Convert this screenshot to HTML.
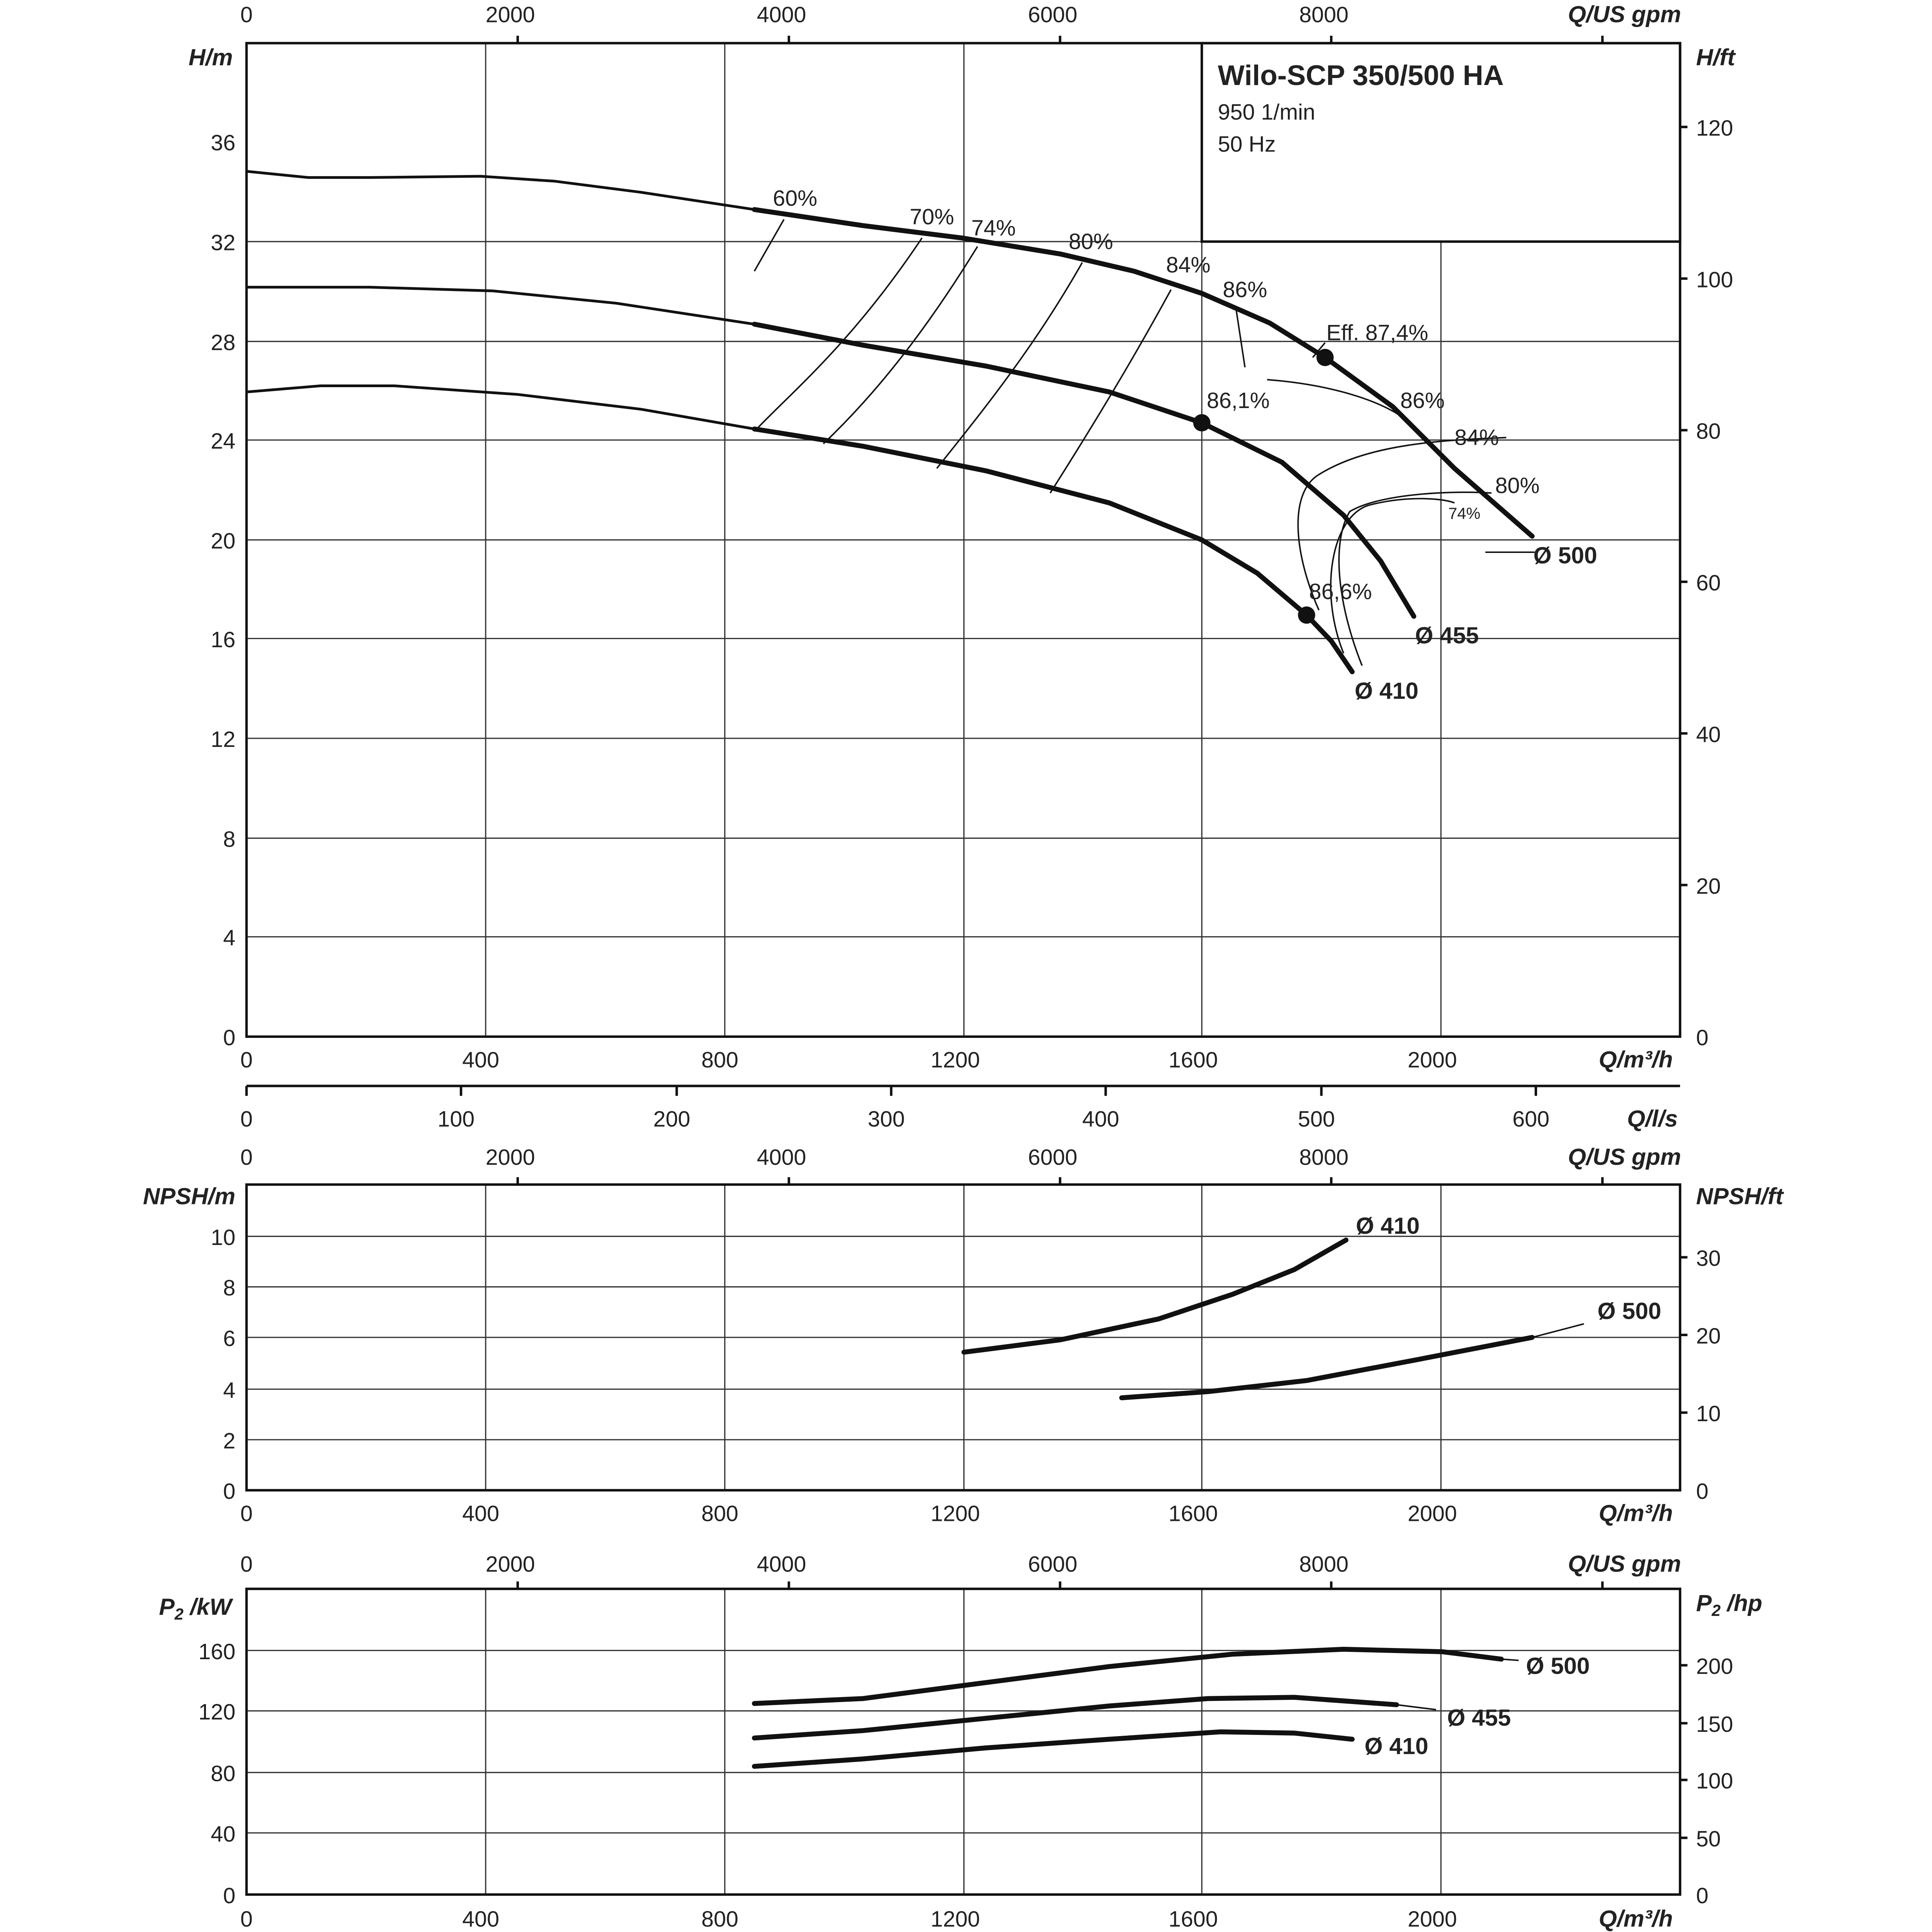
<!DOCTYPE html>
<html><head><meta charset="utf-8"><style>html,body{margin:0;padding:0;background:#fff}svg{display:block}</style></head><body>
<svg xmlns="http://www.w3.org/2000/svg" width="5120" height="5120" viewBox="0 0 1605 1605" font-family="Liberation Sans, DejaVu Sans, sans-serif" font-size="18" fill="#222">
<rect width="1605" height="1605" fill="#fff"/>
<g stroke="#333" stroke-width="1" fill="none">
<path d="M394 35V841M588 35V841M782 35V841M975 35V841M1169 196V841M200 760H1363M200 680H1363M200 599H1363M200 518H1363M200 438H1363M200 357H1363M200 277H1363M200 196H975"/>
<path d="M394 961V1209M588 961V1209M782 961V1209M975 961V1209M1169 961V1209M200 1168H1363M200 1127H1363M200 1085H1363M200 1044H1363M200 1003H1363"/>
<path d="M394 1289V1537M588 1289V1537M782 1289V1537M975 1289V1537M1169 1289V1537M200 1487H1363M200 1438H1363M200 1388H1363M200 1339H1363"/>
</g>
<g stroke="#111" stroke-width="2" fill="none">
<rect x="200" y="35" width="1163" height="806"/>
<rect x="975" y="35" width="388" height="161"/>
<rect x="200" y="961" width="1163" height="248"/>
<rect x="200" y="1289" width="1163" height="248"/>
<path d="M200 881H1363"/>
<path d="M200 881v8M374 881v8M549 881v8M723 881v8M897 881v8M1072 881v8M1246 881v8"/>
<path d="M420 35v-6M640 35v-6M860 35v-6M1080 35v-6M1300 35v-6M420 961v-6M640 961v-6M860 961v-6M1080 961v-6M1300 961v-6M420 1289v-6M640 1289v-6M860 1289v-6M1080 1289v-6M1300 1289v-6"/>
<path d="M1363 103h6M1363 226h6M1363 349h6M1363 472h6M1363 595h6M1363 718h6M1363 1146h6M1363 1083h6M1363 1020h6M1363 1491h6M1363 1444h6M1363 1398h6M1363 1351h6"/>
</g>
<g stroke="#111" stroke-width="2.2" fill="none" stroke-linejoin="round">
<polyline points="200,139 250,144 300,144 390,143 450,147 520,156 612,170"/>
<polyline points="200,233 300,233 400,236 500,246 612,263"/>
<polyline points="200,318 260,313 320,313 420,320 520,332 612,348"/>
</g>
<g stroke="#111" stroke-width="4" fill="none" stroke-linejoin="round" stroke-linecap="round">
<polyline points="612,170 700,183 780,193 860,206 920,220 975,238 1030,262 1075,290 1130,330 1180,380 1243,435"/>
<polyline points="612,263 700,280 800,297 900,318 975,343 1040,375 1090,418 1120,455 1147,500"/>
<polyline points="612,348 700,362 800,382 900,408 975,438 1020,465 1060,499 1080,520 1097,545"/>
<polyline points="782,1097 860,1087 940,1070 1000,1050 1050,1030 1092,1006"/>
<polyline points="910,1134 980,1129 1060,1120 1150,1103 1243,1085"/>
<polyline points="612,1382 700,1378 800,1365 900,1352 1000,1342 1090,1338 1170,1340 1218,1346"/>
<polyline points="612,1410 700,1404 800,1394 900,1384 980,1378 1050,1377 1133,1383"/>
<polyline points="612,1433 700,1427 800,1418 900,1411 990,1405 1050,1406 1097,1411"/>
</g>
<g stroke="#111" stroke-width="1.2" fill="none">
<path d="M1243 1085L1285 1074M1218 1346L1232 1347M1133 1383L1165 1387"/>
<path d="M612 220L636 178"/>
<path d="M612 350C640 320 690 280 748 193"/>
<path d="M668 360C710 320 750 270 793 200"/>
<path d="M760 380C800 330 840 280 878 213"/>
<path d="M852 400C890 340 920 290 950 235"/>
<path d="M1003 252L1010 298"/>
<path d="M1028 308C1080 312 1120 325 1140 340"/>
<path d="M1070 495C1050 450 1045 400 1070 385C1110 360 1170 357 1222 355"/>
<path d="M1105 540C1085 490 1080 440 1095 415C1120 400 1180 398 1210 400"/>
<path d="M1090 530C1070 480 1080 420 1110 410C1140 402 1170 404 1180 408"/>
<path d="M1065 290L1075 278M1205 448L1245 448"/>
</g>
<g fill="#111"><circle cx="1075" cy="290" r="7"/><circle cx="975" cy="343" r="7"/><circle cx="1060" cy="499" r="7"/></g>
<g font-size="18">
<text x="627" y="167">60%</text><text x="738" y="182">70%</text><text x="788" y="191">74%</text>
<text x="867" y="202">80%</text><text x="946" y="221">84%</text><text x="992" y="241">86%</text>
<text x="1076" y="276">Eff. 87,4%</text><text x="979" y="331">86,1%</text><text x="1136" y="331">86%</text>
<text x="1180" y="361">84%</text><text x="1213" y="400">80%</text><text x="1175" y="421" font-size="13">74%</text>
<text x="1062" y="486">86,6%</text>
</g>
<g font-weight="bold" font-size="19">
<text x="1244" y="457">Ø 500</text><text x="1148" y="522">Ø 455</text><text x="1099" y="567">Ø 410</text>
<text x="1100" y="1001">Ø 410</text><text x="1296" y="1070">Ø 500</text>
<text x="1238" y="1358">Ø 500</text><text x="1174" y="1400">Ø 455</text><text x="1107" y="1423">Ø 410</text>
</g>
<text x="988" y="69" font-weight="bold" font-size="23">Wilo-SCP 350/500 HA</text>
<text x="988" y="97">950 1/min</text><text x="988" y="123">50 Hz</text>
<g text-anchor="end">
<text x="191" y="122">36</text><text x="191" y="203">32</text><text x="191" y="284">28</text><text x="191" y="364">24</text><text x="191" y="445">20</text><text x="191" y="525">16</text><text x="191" y="606">12</text><text x="191" y="687">8</text><text x="191" y="767">4</text><text x="191" y="848">0</text>
<text x="191" y="1010">10</text><text x="191" y="1051">8</text><text x="191" y="1092">6</text><text x="191" y="1134">4</text><text x="191" y="1175">2</text><text x="191" y="1216">0</text>
<text x="191" y="1346">160</text><text x="191" y="1395">120</text><text x="191" y="1445">80</text><text x="191" y="1494">40</text><text x="191" y="1544">0</text>
</g>
<g>
<text x="1376" y="110">120</text><text x="1376" y="233">100</text><text x="1376" y="356">80</text><text x="1376" y="479">60</text><text x="1376" y="602">40</text><text x="1376" y="725">20</text><text x="1376" y="848">0</text>
<text x="1376" y="1027">30</text><text x="1376" y="1090">20</text><text x="1376" y="1153">10</text><text x="1376" y="1216">0</text>
<text x="1376" y="1358">200</text><text x="1376" y="1405">150</text><text x="1376" y="1451">100</text><text x="1376" y="1498">50</text><text x="1376" y="1544">0</text>
</g>
<g text-anchor="middle">
<text x="200" y="866">0</text><text x="390" y="866">400</text><text x="584" y="866">800</text><text x="775" y="866">1200</text><text x="968" y="866">1600</text><text x="1162" y="866">2000</text>
<text x="200" y="1234">0</text><text x="390" y="1234">400</text><text x="584" y="1234">800</text><text x="775" y="1234">1200</text><text x="968" y="1234">1600</text><text x="1162" y="1234">2000</text>
<text x="200" y="1563">0</text><text x="390" y="1563">400</text><text x="584" y="1563">800</text><text x="775" y="1563">1200</text><text x="968" y="1563">1600</text><text x="1162" y="1563">2000</text>
<text x="200" y="914">0</text><text x="370" y="914">100</text><text x="545" y="914">200</text><text x="719" y="914">300</text><text x="893" y="914">400</text><text x="1068" y="914">500</text><text x="1242" y="914">600</text>
<text x="200" y="18">0</text><text x="414" y="18">2000</text><text x="634" y="18">4000</text><text x="854" y="18">6000</text><text x="1074" y="18">8000</text>
<text x="200" y="945">0</text><text x="414" y="945">2000</text><text x="634" y="945">4000</text><text x="854" y="945">6000</text><text x="1074" y="945">8000</text>
<text x="200" y="1275">0</text><text x="414" y="1275">2000</text><text x="634" y="1275">4000</text><text x="854" y="1275">6000</text><text x="1074" y="1275">8000</text>
</g>
<g font-weight="bold" font-style="italic" font-size="19">
<text x="1272" y="18">Q/US gpm</text><text x="1272" y="945">Q/US gpm</text><text x="1272" y="1275">Q/US gpm</text>
<text x="1297" y="866">Q/m³/h</text><text x="1297" y="1234">Q/m³/h</text><text x="1297" y="1563">Q/m³/h</text>
<text x="1320" y="914">Q/l/s</text>
<text x="153" y="53">H/m</text><text x="1376" y="53">H/ft</text>
<text x="116" y="977">NPSH/m</text><text x="1376" y="977">NPSH/ft</text>
<text x="129" y="1310">P<tspan font-size="13" dy="4">2</tspan><tspan dy="-4"> /kW</tspan></text>
<text x="1376" y="1307">P<tspan font-size="13" dy="4">2</tspan><tspan dy="-4"> /hp</tspan></text>
</g>
</svg>
</body></html>
